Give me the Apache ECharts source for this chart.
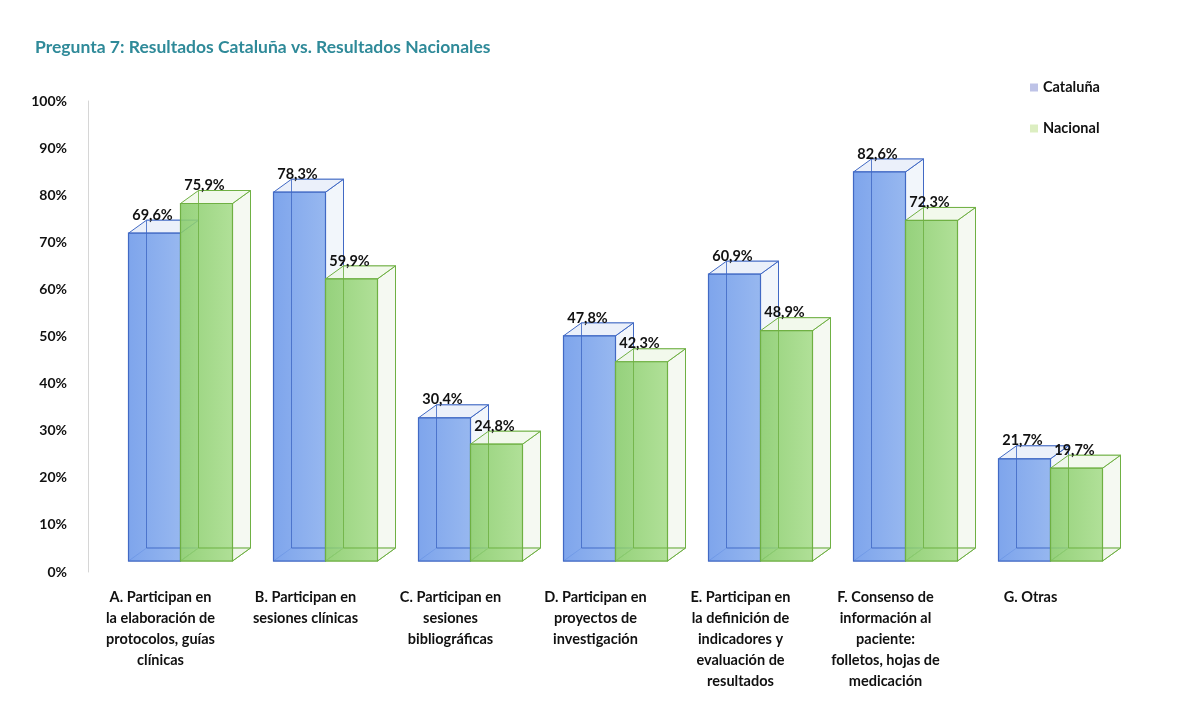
<!DOCTYPE html>
<html>
<head>
<meta charset="utf-8">
<title>Pregunta 7</title>
<script src="https://cdn.jsdelivr.net/npm/echarts@6/dist/echarts.min.js"></script>
<style>
  html, body { margin: 0; padding: 0; background: #fff; }
  #chart { width: 1185px; height: 709px; }
</style>
</head>
<body>
<div id="chart"></div>
<script>
// categorias (eje X)
const categories = [
  "A. Participan en\nla elaboración de\nprotocolos, guías\nclínicas",
  "B. Participan en\nsesiones clínicas",
  "C. Participan en\nsesiones\nbibliográficas",
  "D. Participan en\nproyectos de\ninvestigación",
  "E. Participan en\nla definición de\nindicadores y\nevaluación de\nresultados",
  "F. Consenso de\ninformación al\npaciente:\nfolletos, hojas de\nmedicación",
  "G. Otras"
];

// valores (%)
const cataluna = [69.6, 78.3, 30.4, 47.8, 60.9, 82.6, 21.7];
const nacional = [75.9, 59.9, 24.8, 42.3, 48.9, 72.3, 19.7];

// eje Y
const yTicks = [0, 10, 20, 30, 40, 50, 60, 70, 80, 90, 100];

const FONT = "Lato, 'Open Sans', sans-serif";

// estilo 3D de las barras
const DX = 18, DY = 13, LIFT = 11, BAR_W = 52;

function fmt(v) {
  return v.toFixed(1).replace(".", ",") + "%";
}

function makeRender(offset, front, edge, side, topFace) {
  return function (params, api) {
    const idx = api.value(0);
    const v = api.value(1);
    const base = api.coord([idx, 0]);
    const top = api.coord([idx, v]);
    const x0 = base[0] + offset;
    const x1 = x0 + BAR_W;
    const yb = base[1] - LIFT;
    const yt = top[1] - LIFT;
    const lineStyle = { stroke: edge, lineWidth: 1, fill: null, opacity: 0.8 };
    return {
      type: "group",
      children: [
        // cara trasera
        {
          type: "rect",
          shape: { x: x0 + DX, y: yt - DY, width: BAR_W, height: yb - yt },
          style: { fill: "rgba(255,255,255,0.15)", stroke: edge, lineWidth: 1, opacity: 0.6 }
        },
        // suelo
        {
          type: "polygon",
          shape: { points: [[x0, yb], [x0 + DX, yb - DY], [x1 + DX, yb - DY], [x1, yb]] },
          style: { fill: side, stroke: edge, lineWidth: 1 }
        },
        // lateral derecho
        {
          type: "polygon",
          shape: { points: [[x1, yt], [x1 + DX, yt - DY], [x1 + DX, yb - DY], [x1, yb]] },
          style: { fill: side, stroke: edge, lineWidth: 1 }
        },
        // tapa
        {
          type: "polygon",
          shape: { points: [[x0, yt], [x0 + DX, yt - DY], [x1 + DX, yt - DY], [x1, yt]] },
          style: { fill: topFace, stroke: edge, lineWidth: 1 }
        },
        // frente
        {
          type: "rect",
          shape: { x: x0, y: yt, width: BAR_W, height: yb - yt },
          style: {
            fill: new echarts.graphic.LinearGradient(0, 0, 1, 0, [
              { offset: 0, color: front[0] },
              { offset: 1, color: front[1] }
            ]),
            stroke: edge,
            lineWidth: 1.2
          }
        },
        // aristas traseras vistas a traves
        {
          type: "line",
          shape: { x1: x0 + DX, y1: yt - DY, x2: x0 + DX, y2: yb - DY },
          style: lineStyle
        },
        {
          type: "line",
          shape: { x1: x0 + DX, y1: yb - DY, x2: x1 + DX, y2: yb - DY },
          style: lineStyle
        },
        // etiqueta
        {
          type: "text",
          x: x0 + BAR_W / 2 - 2,
          y: yt - 18,
          style: {
            text: fmt(v),
            fill: "#111",
            font: "bold 14.5px " + FONT,
            textAlign: "center",
            textVerticalAlign: "middle"
          }
        }
      ]
    };
  };
}

const chart = echarts.init(document.getElementById("chart"));

const option = {
  backgroundColor: "#fff",
  animation: false,
  title: {
    text: "Pregunta 7: Resultados Cataluña vs. Resultados Nacionales",
    left: 30,
    top: 33,
    textStyle: { color: "#2f8a99", fontSize: 17.5, fontWeight: "bold", fontFamily: FONT }
  },
  legend: {
    orient: "vertical",
    left: 1025,
    top: 75,
    itemGap: 26,
    itemWidth: 8,
    itemHeight: 8,
    itemStyle: { opacity: 0.85 },
    textStyle: { color: "#111", fontSize: 14.5, fontWeight: "bold", fontFamily: FONT },
    icon: "rect",
    data: ["Cataluña", "Nacional"]
  },
  grid: { left: 88, right: 82, top: 101, bottom: 137 },
  xAxis: {
    type: "category",
    data: categories,
    axisLine: { show: false },
    axisTick: { show: false },
    axisLabel: {
      interval: 0,
      margin: 15,
      color: "#111",
      fontSize: 14.5,
      fontWeight: "bold",
      fontFamily: FONT,
      lineHeight: 21
    }
  },
  yAxis: {
    type: "value",
    min: yTicks[0],
    max: yTicks[yTicks.length - 1],
    interval: yTicks[1] - yTicks[0],
    axisLine: { show: true, lineStyle: { color: "#d6d6d6" } },
    axisTick: { show: false },
    splitLine: { show: false },
    axisLabel: {
      margin: 21,
      color: "#111",
      fontSize: 14,
      fontWeight: "bold",
      fontFamily: FONT,
      formatter: "{value}%"
    }
  },
  series: [
    {
      name: "Cataluña",
      type: "custom",
      itemStyle: { color: "#b3b8e3" },
      encode: { x: 0, y: 1 },
      data: cataluna.map((v, i) => [i, v]),
      renderItem: makeRender(-32, ["rgba(112,155,234,0.9)", "rgba(140,176,238,0.9)"], "#4169c4",
        "rgba(232,238,248,0.55)", "rgba(226,234,248,0.7)")
    },
    {
      name: "Nacional",
      type: "custom",
      itemStyle: { color: "#d6ebb6" },
      encode: { x: 0, y: 1 },
      data: nacional.map((v, i) => [i, v]),
      renderItem: makeRender(20, ["rgba(136,204,106,0.88)", "rgba(166,220,138,0.88)"], "#6fb043",
        "rgba(236,244,232,0.55)", "rgba(236,246,228,0.7)")
    }
  ]
};

option && chart.setOption(option);
</script>
</body>
</html>
